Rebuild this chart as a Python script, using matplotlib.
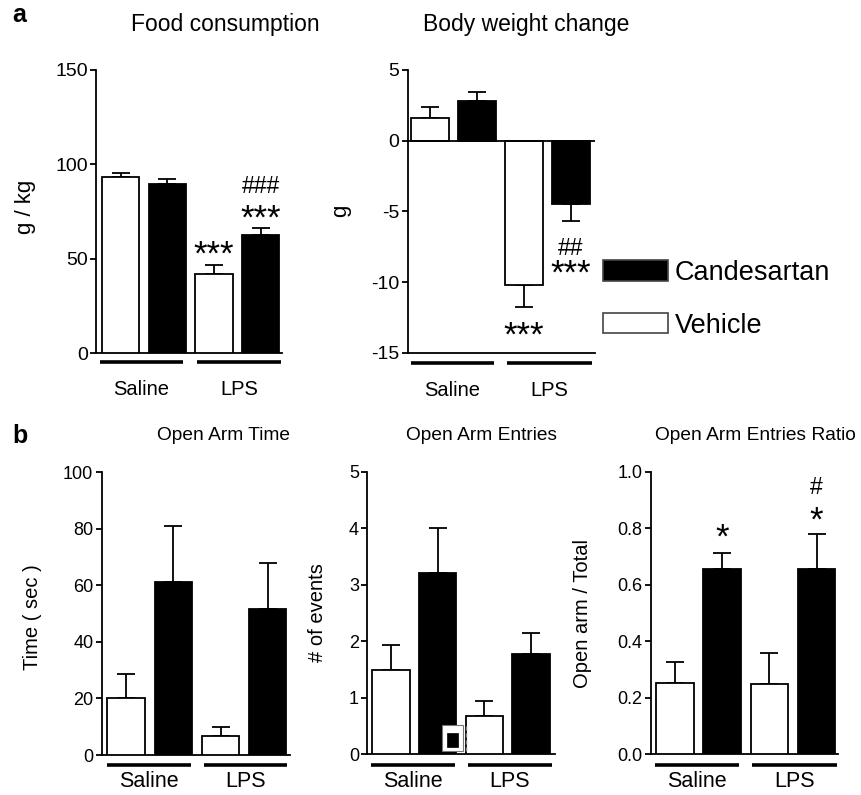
import matplotlib
matplotlib.use('Agg')
import matplotlib.pyplot as plt
import matplotlib.transforms as mtransforms
from matplotlib.patches import Patch, Rectangle

plt.rcParams['font.family'] = ['Liberation Sans', 'DejaVu Sans']
plt.rcParams['axes.unicode_minus'] = False

# ---------------- data ----------------
groups = ['Saline', 'LPS']
series = ['Vehicle', 'Candesartan']

food_vehicle = [93.3, 41.9]
food_vehicle_err = [2.1, 4.7]
food_cand = [89.6, 62.5]
food_cand_err = [2.6, 3.8]

bw_vehicle = [1.6, -10.2]
bw_vehicle_err = [0.75, 1.6]
bw_cand = [2.8, -4.5]
bw_cand_err = [0.67, 1.18]

time_vehicle = [20.3, 6.8]
time_vehicle_err = [8.2, 3.2]
time_cand = [61.1, 51.6]
time_cand_err = [19.9, 16.4]

entries_vehicle = [1.49, 0.68]
entries_vehicle_err = [0.44, 0.26]
entries_cand = [3.2, 1.78]
entries_cand_err = [0.81, 0.36]

ratio_vehicle = [0.251, 0.249]
ratio_vehicle_err = [0.075, 0.111]
ratio_cand = [0.656, 0.656]
ratio_cand_err = [0.056, 0.123]

# ---------------- layout ----------------
W, H = 861, 795
fig = plt.figure(figsize=(W / 100, H / 100), dpi=100)


def fx(x):
    return x / W


def fy(y):
    return 1 - y / H


LW = 1.3


def panel(left, right, top, bottom, c0, sp, ylim, yticks, vehicle, veh_err, cand, cand_err,
          tick_fs, glines, gy, label_y, label_fs, zero_line=False, ticklabels=None):
    ax = fig.add_axes([fx(left), fy(bottom), fx(right) - fx(left), fy(top) - fy(bottom)])
    ax.set_xlim((left - c0) / sp, (right - c0) / sp)
    ax.set_ylim(*ylim)
    ax.set_yticks(yticks)
    if ticklabels is not None:
        ax.set_yticklabels(ticklabels)
    ax.set_xticks([])
    for s in ['top', 'right']:
        ax.spines[s].set_visible(False)
    for s in ['left', 'bottom']:
        ax.spines[s].set_linewidth(LW)
    ax.tick_params(axis='y', direction='out', length=4, width=LW, labelsize=tick_fs, pad=2)
    ax.patch.set_alpha(0)
    xs_v = [2 * g for g in range(len(groups))]
    xs_c = [2 * g + 1 for g in range(len(groups))]
    for xs, vals, errs, col in [(xs_v, vehicle, veh_err, 'white'), (xs_c, cand, cand_err, 'black')]:
        ax.bar(xs, vals, width=0.8, color=col, edgecolor='black', linewidth=LW, zorder=3)
        lower = [e if v < 0 else 0 for v, e in zip(vals, errs)]
        upper = [0 if v < 0 else e for v, e in zip(vals, errs)]
        ax.errorbar(xs, vals, yerr=[lower, upper], fmt='none', ecolor='black',
                    elinewidth=LW, capsize=6.5, capthick=LW, zorder=2)
    if zero_line:
        ax.axhline(0, color='black', lw=LW, zorder=4)
    trans = mtransforms.blended_transform_factory(ax.transData, ax.transAxes)
    for (x0p, x1p), name in zip(glines, groups):
        x0 = (x0p - c0) / sp
        x1 = (x1p - c0) / sp
        ax.plot([x0, x1], [gy, gy], color='black', lw=2.6, transform=trans, clip_on=False,
                solid_capstyle='butt')
        ax.text((x0 + x1) / 2, label_y, name, transform=trans, ha='center', va='center',
                fontsize=label_fs)
    return ax


# a1: Food consumption
ax1 = panel(96, 282, 70, 353, 120.5, 46.7, (0, 150), [0, 50, 100, 150],
            food_vehicle, food_vehicle_err, food_cand, food_cand_err,
            14, [(100, 183), (197, 281)], -0.032, -0.13, 14.5)
# a2: Body weight change
ax2 = panel(407.7, 595, 70, 352.7, 430, 47, (-15, 5), [-15, -10, -5, 0, 5],
            bw_vehicle, bw_vehicle_err, bw_cand, bw_cand_err,
            14, [(411, 494), (507, 592)], -0.035, -0.135, 14.5, zero_line=True)
# b1: Open Arm Time
ax3 = panel(101.7, 290, 472.3, 755, 126.3, 47.1, (0, 100), [0, 20, 40, 60, 80, 100],
            time_vehicle, time_vehicle_err, time_cand, time_cand_err,
            13, [(106.7, 190.7), (204, 286.7)], -0.035, -0.095, 15.5)
# b2: Open Arm Entries
ax4 = panel(367.3, 555, 471.7, 754.3, 390.8, 46.8, (0, 5), [0, 1, 2, 3, 4, 5],
            entries_vehicle, entries_vehicle_err, entries_cand, entries_cand_err,
            13, [(370.7, 455), (467.7, 551.7)], -0.038, -0.095, 15.5)
# b3: Open Arm Entries Ratio
ax5 = panel(651, 838, 471.7, 754.3, 675, 47.2, (0, 1.0), [0, 0.2, 0.4, 0.6, 0.8, 1.0],
            ratio_vehicle, ratio_vehicle_err, ratio_cand, ratio_cand_err,
            13, [(655, 739.3), (751.7, 836.7)], -0.038, -0.095, 15.5,
            ticklabels=['0.0', '0.2', '0.4', '0.6', '0.8', '1.0'])

# significance marks
STAR_FS = 25
HASH_FS = 16.5
ax1.text(2, 52.0, '***', ha='center', va='center', fontsize=STAR_FS)
ax1.text(3, 71.0, '***', ha='center', va='center', fontsize=STAR_FS)
ax1.text(3, 88.5, '###', ha='center', va='center', fontsize=HASH_FS)
ax2.text(3, -7.6, '##', ha='center', va='center', fontsize=HASH_FS)
ax2.text(3, -9.45, '***', ha='center', va='center', fontsize=STAR_FS)
ax2.text(2, -13.8, '***', ha='center', va='center', fontsize=STAR_FS)
ax5.text(1, 0.765, '*', ha='center', va='center', fontsize=STAR_FS)
ax5.text(3, 0.825, '*', ha='center', va='center', fontsize=STAR_FS)
ax5.text(3, 0.945, '#', ha='center', va='center', fontsize=HASH_FS)

# small legend artefact inside the entries panel
ax4.add_patch(Rectangle((0.396, 0.012), 0.113, 0.09, transform=ax4.transAxes,
                        facecolor='white', edgecolor='#777777', lw=0.8, zorder=5))
ax4.add_patch(Rectangle((0.423, 0.027), 0.062, 0.047, transform=ax4.transAxes,
                        facecolor='black', edgecolor='black', lw=0.5, zorder=6))
ax4.plot([0.524, 0.524], [0.012, 0.102], transform=ax4.transAxes, color='#888888',
         lw=1.0, ls=(0, (3, 2)), zorder=6, clip_on=False)

# titles and panel letters
fig.text(fx(12), fy(22), 'a', fontsize=18, fontweight='bold', ha='left', va='baseline')
fig.text(fx(225.5), fy(31), 'Food consumption', fontsize=16.5, ha='center', va='baseline')
fig.text(fx(526.5), fy(31), 'Body weight change', fontsize=16.5, ha='center', va='baseline')
fig.text(fx(12), fy(443), 'b', fontsize=18, fontweight='bold', ha='left', va='baseline')
fig.text(fx(223.5), fy(440), 'Open Arm Time', fontsize=13.8, ha='center', va='baseline')
fig.text(fx(481.7), fy(440), 'Open Arm Entries', fontsize=13.8, ha='center', va='baseline')
fig.text(fx(655), fy(440), 'Open Arm Entries Ratio', fontsize=13.8, ha='left', va='baseline')

# y labels
fig.text(fx(25), fy(207), 'g / kg', fontsize=16, rotation=90, ha='center', va='center')
fig.text(fx(341), fy(211), 'g', fontsize=16, rotation=90, ha='center', va='center')
fig.text(fx(32), fy(617), 'Time ( sec )', fontsize=14.5, rotation=90, ha='center', va='center')
fig.text(fx(317.5), fy(613), '# of events', fontsize=14.5, rotation=90, ha='center', va='center')
fig.text(fx(583), fy(613), 'Open arm / Total', fontsize=14.5, rotation=90, ha='center', va='center')

# legend
handles = [Patch(facecolor='black', edgecolor='#444444', lw=1.2, label=series[1]),
           Patch(facecolor='white', edgecolor='#444444', lw=1.2, label=series[0])]
fig.legend(handles=handles, loc='upper left', bbox_to_anchor=(fx(602.7), fy(260)),
           frameon=False, fontsize=19.5, handlelength=2.4, handleheight=0.8,
           handletextpad=0.25, labelspacing=0.98, borderpad=0, borderaxespad=0)

fig.savefig('out.png', dpi=100)
